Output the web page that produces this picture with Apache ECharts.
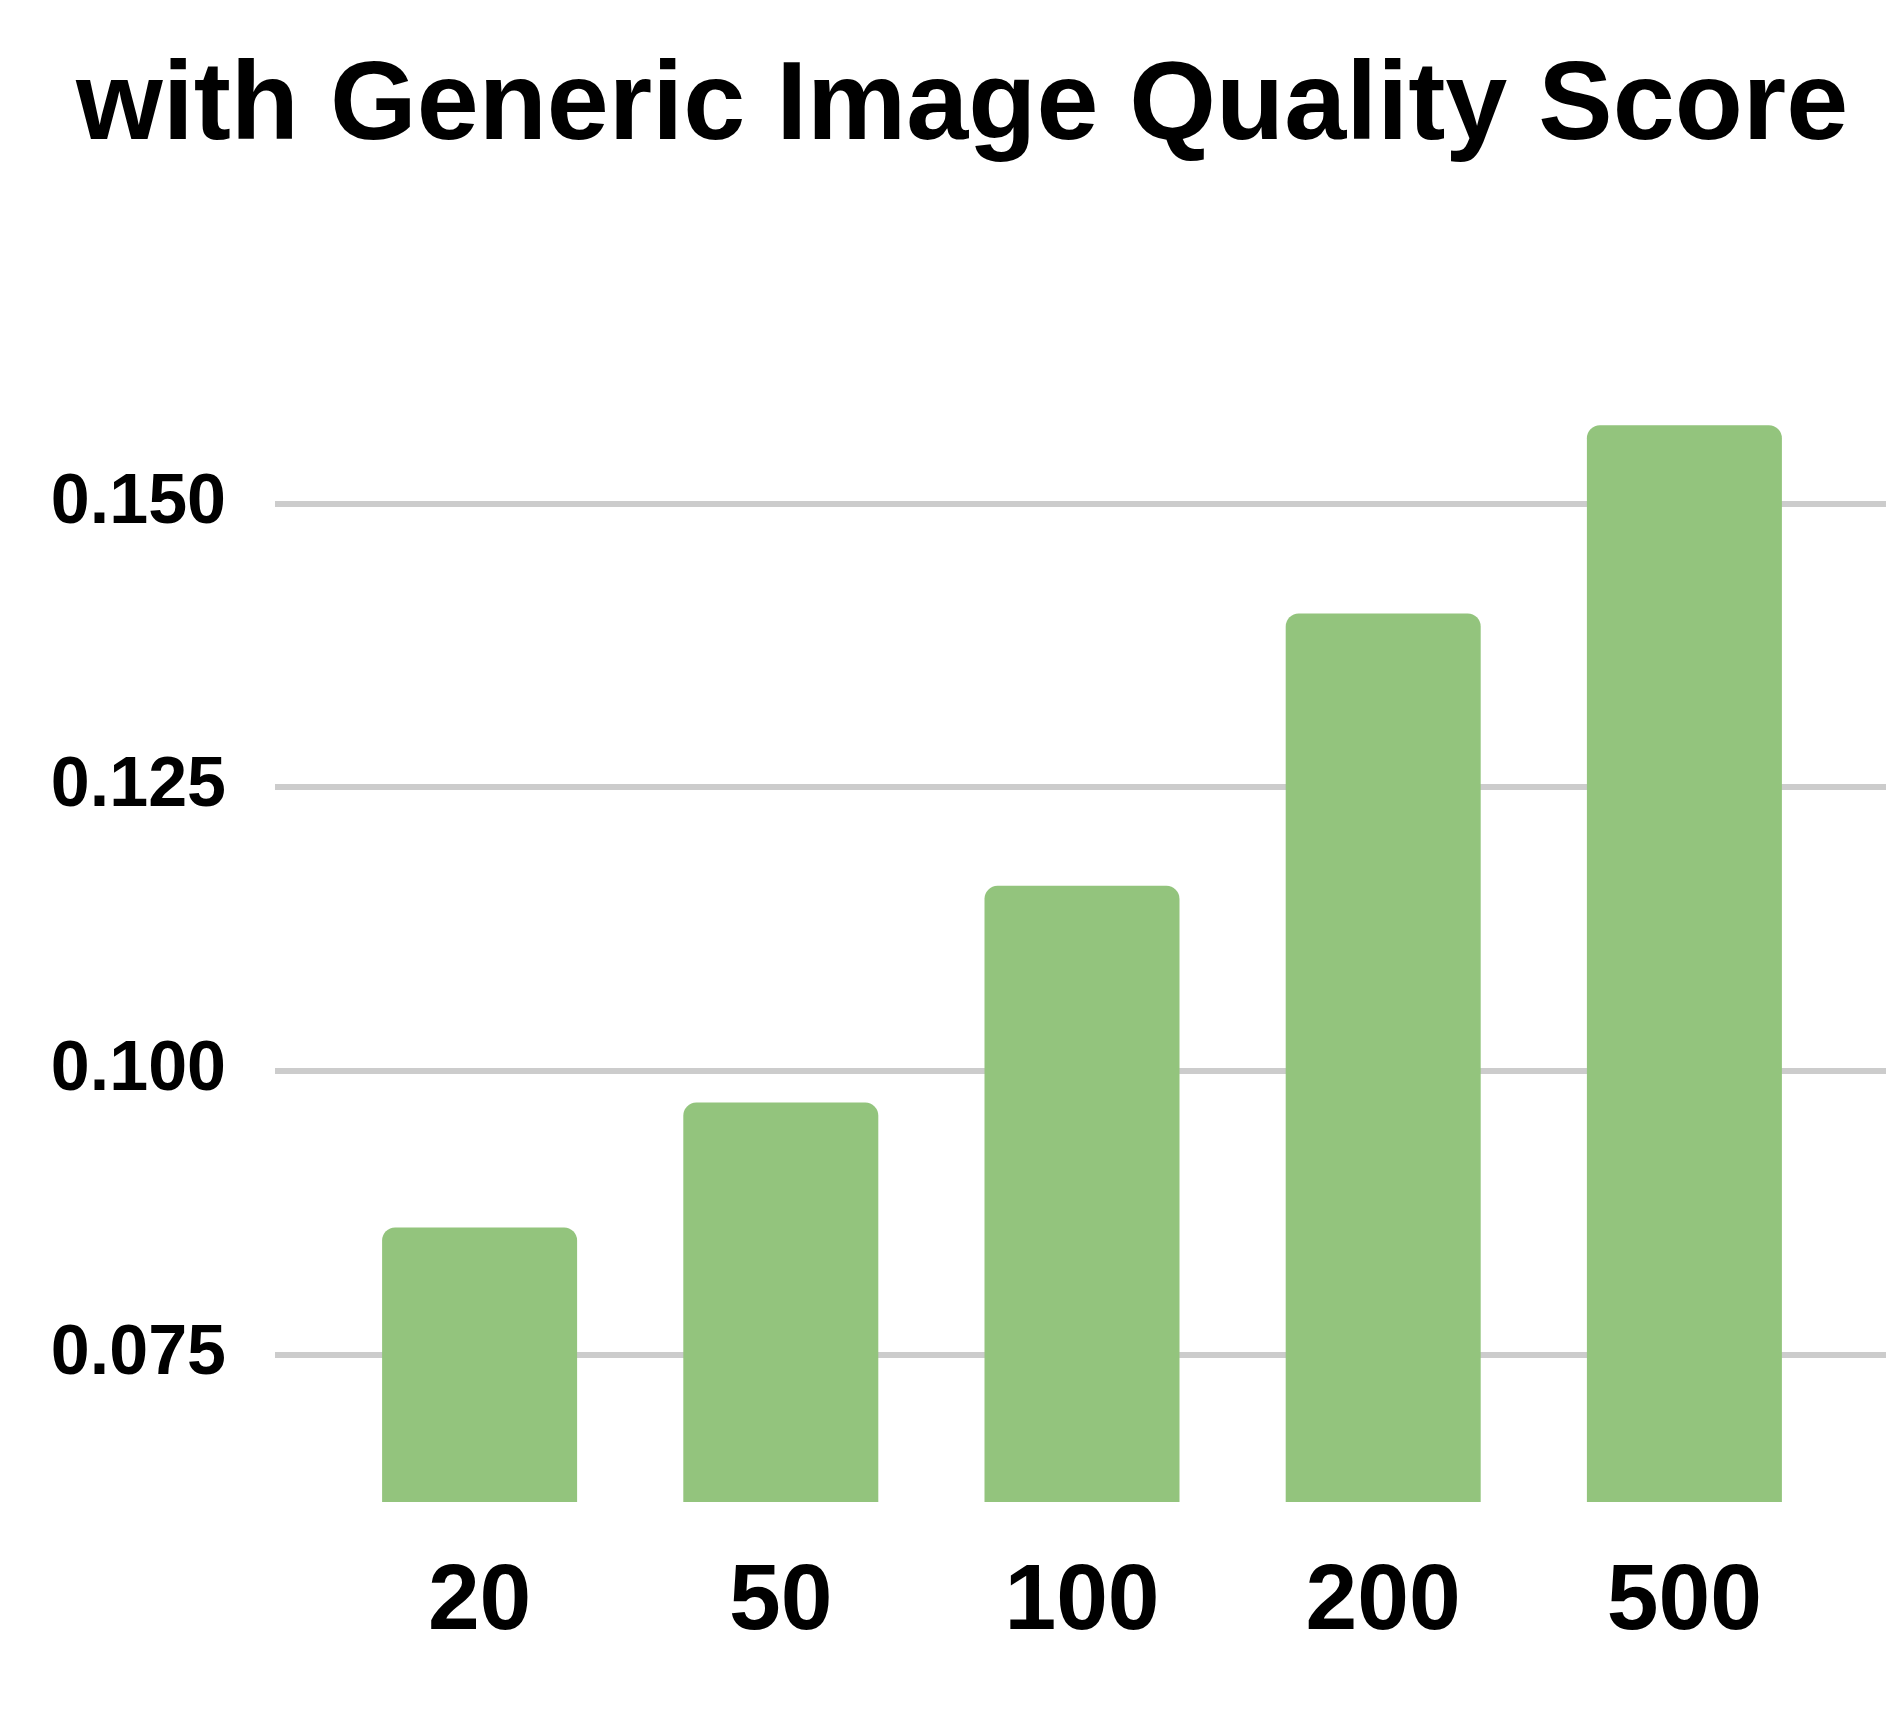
<!DOCTYPE html>
<html>
<head>
<meta charset="utf-8">
<script src="https://cdn.jsdelivr.net/npm/echarts@6/dist/echarts.min.js"></script>
<style>
  html, body { margin: 0; padding: 0; background: #ffffff; }
  #chart { width: 1903px; height: 1722px; }
</style>
</head>
<body>
<div id="chart"></div>
<script>
const titleText = 'with Generic Image Quality Score';
const categories = ['20', '50', '100', '200', '500'];
const scores = [0.0862, 0.0972, 0.1163, 0.1403, 0.1569];
const yMin = 0.062;
const yMax = 0.16;
const yStep = 0.025;

const FONT = '"Liberation Sans", Arial, Helvetica, sans-serif';

const chart = echarts.init(document.getElementById('chart'), null, { renderer: 'canvas' });

const option = {
  backgroundColor: '#ffffff',
  animation: false,
  title: {
    text: titleText,
    left: 76,
    top: 52,
    padding: 0,
    textStyle: {
      fontFamily: FONT,
      fontSize: 111.5,
      fontWeight: 'bold',
      color: '#000000'
    }
  },
  grid: [
    { left: 275, right: 17, top: 390, height: 1112, containLabel: false },
    { left: 329, width: 1506, top: 390, height: 1112, containLabel: false }
  ],
  xAxis: [
    { gridIndex: 0, type: 'category', data: categories, show: false },
    {
      gridIndex: 1,
      type: 'category',
      data: categories,
      axisLine: { show: false },
      axisTick: { show: false },
      axisLabel: {
        margin: 55,
        fontFamily: FONT,
        fontSize: 93,
        fontWeight: 'bold',
        color: '#000000'
      }
    }
  ],
  yAxis: [
    {
      gridIndex: 0,
      type: 'value',
      min: yMin,
      max: yMax,
      minInterval: yStep,
      maxInterval: yStep,
      axisLine: { show: false },
      axisTick: { show: false },
      splitLine: {
        show: true,
        showMinLine: false,
        showMaxLine: false,
        lineStyle: { color: '#cccccc', width: 6 }
      },
      axisLabel: {
        showMinLabel: false,
        showMaxLabel: false,
        margin: 49,
        fontFamily: FONT,
        fontSize: 70,
        fontWeight: 'bold',
        color: '#000000',
        formatter: function (v) { return v.toFixed(3); }
      }
    },
    {
      gridIndex: 1,
      type: 'value',
      min: yMin,
      max: yMax,
      show: false,
      splitLine: { show: false }
    }
  ],
  series: [
    {
      type: 'bar',
      xAxisIndex: 1,
      yAxisIndex: 1,
      data: scores,
      barWidth: 195,
      itemStyle: { color: '#93c47d', borderRadius: [13, 13, 0, 0] },
      z: 3
    }
  ]
};

chart.setOption(option);
</script>
</body>
</html>
